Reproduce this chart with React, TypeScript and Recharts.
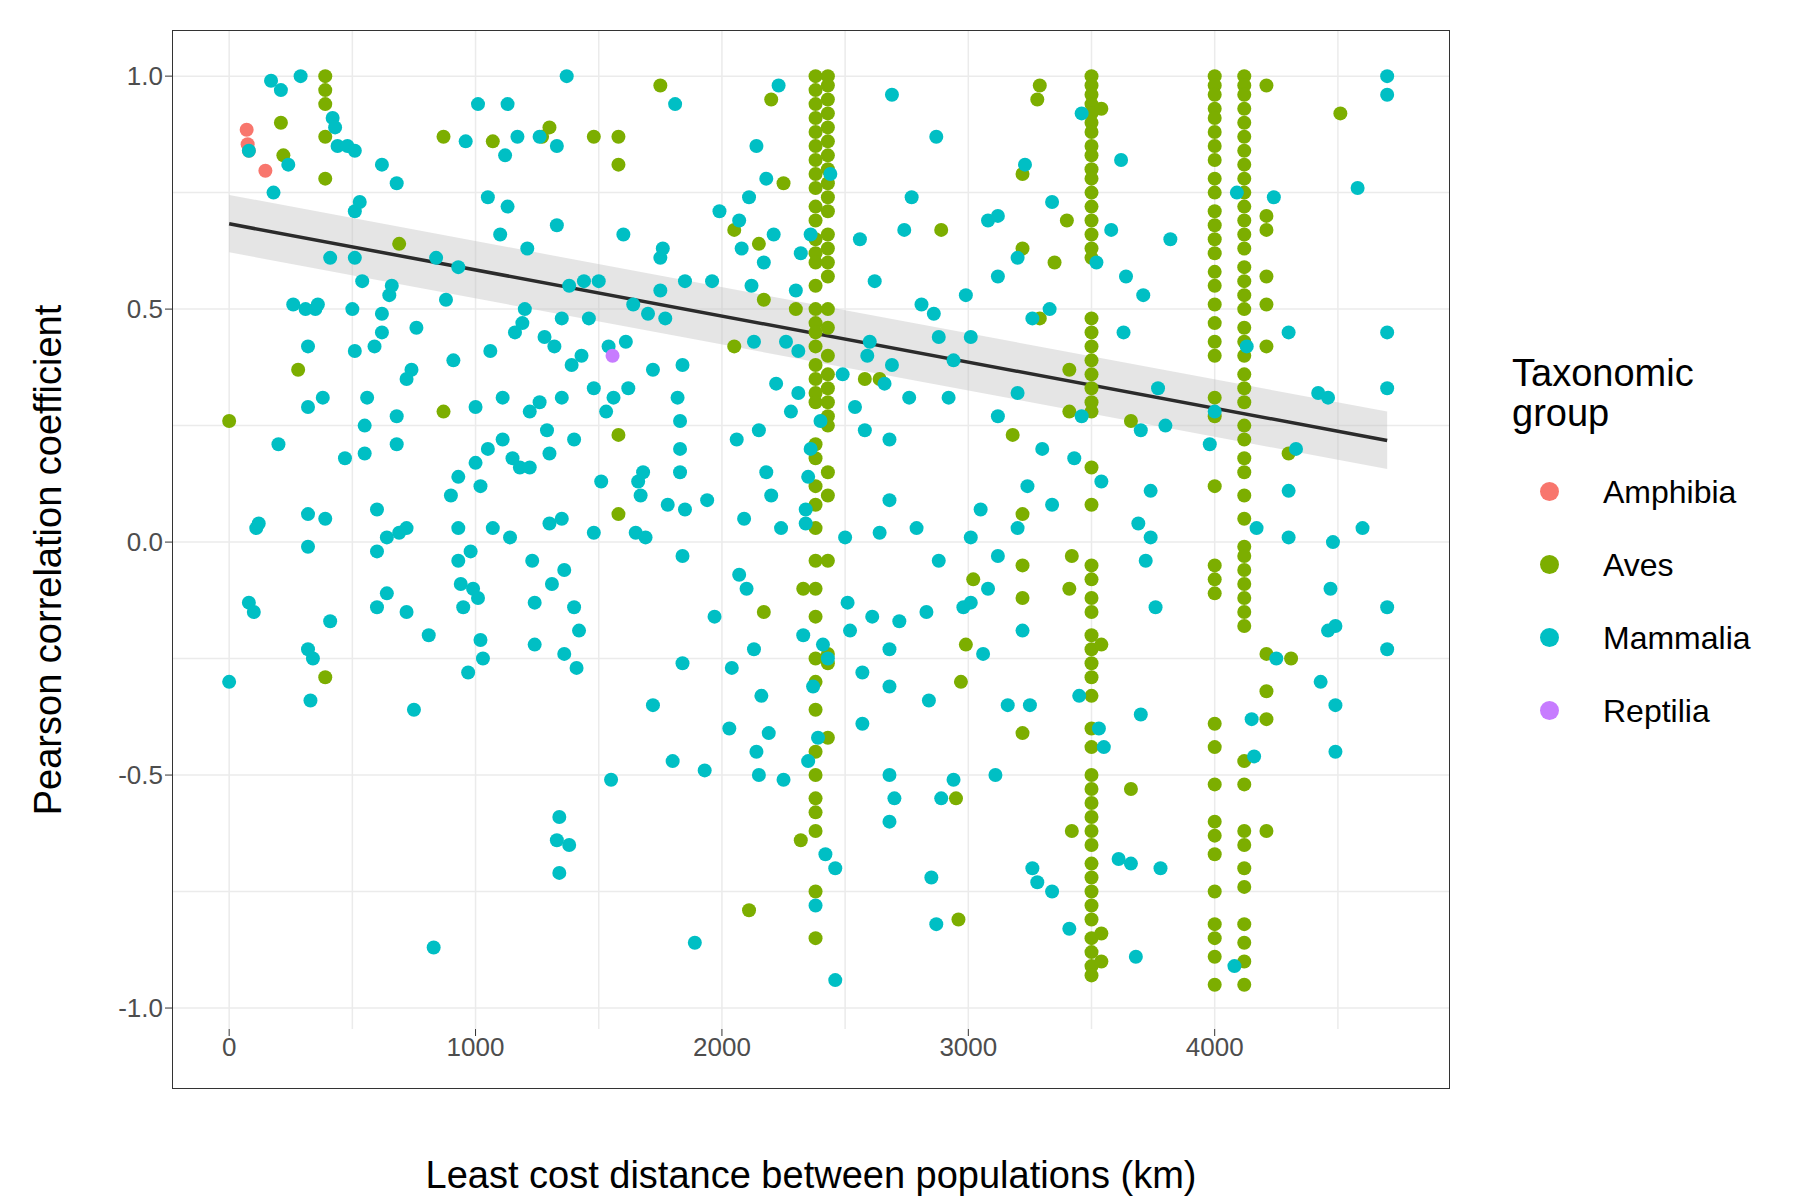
import React from "react";
import { ComposedChart, Scatter, Line, Area, XAxis, YAxis, CartesianGrid } from "recharts";

const COLORS = { Amphibia: "#F8766D", Aves: "#7CAE00", Mammalia: "#00BFC4", Reptilia: "#C77CFF" };
const xTicks = [0, 1000, 2000, 3000, 4000];
const yTicks = [-1, -0.5, 0, 0.5, 1];
const xGrid = [0, 500, 1000, 1500, 2000, 2500, 3000, 3500, 4000, 4500];
const yGrid = [-1, -0.75, -0.5, -0.25, 0, 0.25, 0.5, 0.75, 1];

const amphibia: number[][] = [[71, 0.885], [75, 0.854], [147, 0.797], [80, 0.84]];
const reptilia: number[][] = [[1556, 0.4]];

const avesColX = [2380, 2430, 3500, 4000, 4120];
const avesColY: number[][] = [
  [1.0, 0.97, 0.94, 0.91, 0.88, 0.85, 0.82, 0.79, 0.76, 0.72, 0.69, 0.65, 0.62, 0.6, 0.55, 0.5, 0.47, 0.45, 0.42, 0.38, 0.35, 0.32, 0.3, 0.21, 0.18, 0.12, 0.08, 0.03, -0.04, -0.1, -0.16, -0.25, -0.3, -0.36, -0.45, -0.5, -0.55, -0.58, -0.62, -0.75, -0.85],
  [1.0, 0.98, 0.95, 0.92, 0.89, 0.86, 0.83, 0.8, 0.77, 0.74, 0.71, 0.66, 0.63, 0.6, 0.57, 0.5, 0.46, 0.4, 0.36, 0.33, 0.3, 0.27, 0.25, 0.15, 0.1, -0.04, -0.24, -0.26, -0.42],
  [1.0, 0.98, 0.96, 0.94, 0.92, 0.9, 0.88, 0.85, 0.83, 0.8, 0.78, 0.75, 0.72, 0.69, 0.66, 0.63, 0.61, 0.48, 0.45, 0.42, 0.39, 0.36, 0.33, 0.3, 0.28, 0.16, 0.08, -0.05, -0.08, -0.12, -0.15, -0.2, -0.23, -0.26, -0.29, -0.33, -0.4, -0.44, -0.5, -0.53, -0.56, -0.59, -0.62, -0.65, -0.69, -0.72, -0.75, -0.78, -0.81, -0.85, -0.88, -0.91, -0.93],
  [1.0, 0.98, 0.96, 0.93, 0.91, 0.88, 0.85, 0.82, 0.78, 0.75, 0.71, 0.68, 0.65, 0.62, 0.58, 0.55, 0.51, 0.47, 0.43, 0.4, 0.31, 0.27, 0.12, -0.05, -0.08, -0.11, -0.39, -0.44, -0.52, -0.6, -0.63, -0.67, -0.75, -0.82, -0.85, -0.89, -0.95],
  [1.0, 0.98, 0.96, 0.93, 0.9, 0.87, 0.84, 0.81, 0.78, 0.75, 0.72, 0.69, 0.66, 0.63, 0.59, 0.56, 0.53, 0.5, 0.46, 0.43, 0.4, 0.36, 0.33, 0.3, 0.25, 0.22, 0.18, 0.15, 0.1, 0.05, -0.01, -0.03, -0.06, -0.09, -0.12, -0.15, -0.18, -0.47, -0.52, -0.62, -0.65, -0.7, -0.74, -0.82, -0.86, -0.9, -0.95],
];
const avesScatter: number[][] = [
  [0, 0.26], [210, 0.9], [220, 0.83], [280, 0.37], [390, 1.0], [390, 0.97], [390, 0.94], [390, 0.87], [390, 0.78], [390, -0.29], [690, 0.64], [870, 0.87], [870, 0.28], [1070, 0.86], [1270, 0.87], [1300, 0.89], [1480, 0.87], [1580, 0.87], [1580, 0.81], [1580, 0.23], [1580, 0.06], [1750, 0.98], [2050, 0.67], [2050, 0.42], [2110, -0.79], [2150, 0.64], [2170, 0.52], [2170, -0.15], [2200, 0.95], [2250, 0.77], [2300, 0.5], [2320, -0.64], [2330, -0.1], [2580, 0.35], [2640, 0.35], [2890, 0.67], [2950, -0.55], [2960, -0.81], [2970, -0.3], [2990, -0.22], [3020, -0.08], [3180, 0.23], [3220, 0.79], [3220, 0.63], [3220, 0.06], [3220, -0.05], [3220, -0.12], [3220, -0.41], [3280, 0.95], [3290, 0.98], [3290, 0.48], [3350, 0.6], [3400, 0.69], [3410, 0.37], [3410, 0.28], [3410, -0.1], [3420, -0.62], [3420, -0.03], [3540, 0.93], [3540, -0.22], [3540, -0.84], [3540, -0.9], [3660, 0.26], [3660, -0.53], [4210, 0.98], [4210, 0.7], [4210, 0.67], [4210, 0.57], [4210, 0.51], [4210, 0.42], [4210, -0.24], [4210, -0.32], [4210, -0.38], [4210, -0.62], [4300, 0.19], [4310, -0.25], [4510, 0.92],
];

const mammalia: number[][] = [
  [0, -0.3], [80, 0.84], [80, -0.13], [100, -0.15], [110, 0.03], [120, 0.04], [170, 0.99], [180, 0.75], [200, 0.21], [210, 0.97], [240, 0.81], [260, 0.51], [290, 1.0], [310, 0.5], [320, 0.42], [320, 0.29], [320, 0.06], [320, -0.01], [320, -0.23], [330, -0.34], [340, -0.25], [350, 0.5], [360, 0.51], [380, 0.31], [390, 0.05], [410, -0.17], [410, 0.61], [420, 0.91], [430, 0.89], [440, 0.85], [470, 0.18], [480, 0.85], [500, 0.5], [510, 0.84], [510, 0.71], [510, 0.61], [510, 0.41], [530, 0.73], [540, 0.56], [550, 0.25], [550, 0.19], [560, 0.31], [590, 0.42], [600, -0.02], [600, -0.14], [600, 0.07], [620, 0.81], [620, 0.49], [620, 0.45], [640, 0.01], [640, -0.11], [650, 0.53], [660, 0.55], [680, 0.77], [680, 0.27], [680, 0.21], [690, 0.02], [720, 0.03], [720, -0.15], [720, 0.35], [740, 0.37], [750, -0.36], [760, 0.46], [810, -0.2], [830, -0.87], [840, 0.61], [880, 0.52], [900, 0.1], [910, 0.39], [930, 0.59], [930, 0.14], [930, 0.03], [930, -0.04], [940, -0.09], [950, -0.14], [960, 0.86], [970, -0.28], [980, -0.02], [990, -0.1], [1000, 0.29], [1000, 0.17], [1010, 0.94], [1010, -0.12], [1020, 0.12], [1020, -0.21], [1030, -0.25], [1050, 0.2], [1050, 0.74], [1060, 0.41], [1070, 0.03], [1100, 0.66], [1110, 0.31], [1110, 0.22], [1120, 0.83], [1130, 0.94], [1130, 0.72], [1140, 0.01], [1150, 0.18], [1160, 0.45], [1170, 0.87], [1180, 0.16], [1190, 0.47], [1200, 0.5], [1210, 0.63], [1220, 0.28], [1220, 0.16], [1230, -0.04], [1240, -0.22], [1240, -0.13], [1260, 0.3], [1260, 0.87], [1280, 0.44], [1290, 0.24], [1300, 0.19], [1300, 0.04], [1310, -0.09], [1320, 0.42], [1330, 0.85], [1330, 0.68], [1330, -0.64], [1340, -0.71], [1340, -0.59], [1350, 0.48], [1350, 0.31], [1350, 0.05], [1360, -0.06], [1360, -0.24], [1370, 1.0], [1380, 0.55], [1380, -0.65], [1390, 0.38], [1400, 0.22], [1400, -0.14], [1410, -0.27], [1420, -0.19], [1430, 0.4], [1440, 0.56], [1460, 0.48], [1480, 0.33], [1480, 0.02], [1500, 0.56], [1510, 0.13], [1530, 0.28], [1540, 0.42], [1550, -0.51], [1560, 0.31], [1600, 0.66], [1610, 0.43], [1620, 0.33], [1640, 0.51], [1650, 0.02], [1660, 0.13], [1670, 0.1], [1680, 0.15], [1690, 0.01], [1700, 0.49], [1720, -0.35], [1720, 0.37], [1750, 0.61], [1750, 0.54], [1760, 0.63], [1770, 0.48], [1780, 0.08], [1800, -0.47], [1810, 0.94], [1820, 0.31], [1830, 0.26], [1830, 0.2], [1830, 0.15], [1840, 0.38], [1840, -0.03], [1840, -0.26], [1850, 0.56], [1850, 0.07], [1890, -0.86], [1930, -0.49], [1940, 0.09], [1960, 0.56], [1970, -0.16], [1990, 0.71], [2030, -0.4], [2040, -0.27], [2060, 0.22], [2070, 0.69], [2070, -0.07], [2080, 0.63], [2090, 0.05], [2100, -0.1], [2110, 0.74], [2120, 0.55], [2130, 0.43], [2130, -0.23], [2140, 0.85], [2140, -0.45], [2150, 0.24], [2150, -0.5], [2160, -0.33], [2170, 0.6], [2180, 0.78], [2180, 0.15], [2190, -0.41], [2200, 0.1], [2210, 0.66], [2220, 0.34], [2230, 0.98], [2240, 0.03], [2250, -0.51], [2260, 0.43], [2280, 0.28], [2300, 0.54], [2310, 0.41], [2310, 0.32], [2320, 0.62], [2330, -0.2], [2340, 0.07], [2340, 0.04], [2350, 0.14], [2350, -0.47], [2360, 0.66], [2360, 0.2], [2370, -0.31], [2380, -0.78], [2390, -0.42], [2400, 0.26], [2410, -0.22], [2420, -0.67], [2430, -0.25], [2440, 0.79], [2460, -0.94], [2460, -0.7], [2490, 0.36], [2500, 0.01], [2510, -0.13], [2520, -0.19], [2540, 0.29], [2560, 0.65], [2570, -0.28], [2570, -0.39], [2580, 0.24], [2590, 0.4], [2600, 0.43], [2610, -0.16], [2620, 0.56], [2640, 0.02], [2660, 0.34], [2680, 0.22], [2680, 0.09], [2680, -0.23], [2680, -0.31], [2680, -0.5], [2680, -0.6], [2690, 0.96], [2690, 0.38], [2700, -0.55], [2720, -0.17], [2740, 0.67], [2760, 0.31], [2770, 0.74], [2790, 0.03], [2810, 0.51], [2830, -0.15], [2840, -0.34], [2850, -0.72], [2860, 0.49], [2870, 0.87], [2870, -0.82], [2880, 0.44], [2880, -0.04], [2890, -0.55], [2920, 0.31], [2940, 0.39], [2940, -0.51], [2980, -0.14], [2990, 0.53], [3010, 0.44], [3010, 0.01], [3010, -0.13], [3050, 0.07], [3060, -0.24], [3080, 0.69], [3080, -0.1], [3110, -0.5], [3120, 0.7], [3120, 0.57], [3120, 0.27], [3120, -0.03], [3160, -0.35], [3200, 0.61], [3200, 0.32], [3200, 0.03], [3220, -0.19], [3230, 0.81], [3240, 0.12], [3250, -0.35], [3260, 0.48], [3260, -0.7], [3280, -0.73], [3300, 0.2], [3330, 0.5], [3340, 0.73], [3340, 0.08], [3340, -0.75], [3410, -0.83], [3430, 0.18], [3450, -0.33], [3460, 0.27], [3460, 0.92], [3520, 0.6], [3530, -0.4], [3540, 0.13], [3550, -0.44], [3580, 0.67], [3610, -0.68], [3620, 0.82], [3630, 0.45], [3640, 0.57], [3660, -0.69], [3680, -0.89], [3690, 0.04], [3700, 0.24], [3700, -0.37], [3710, 0.53], [3720, -0.04], [3740, 0.11], [3740, 0.01], [3760, -0.14], [3770, 0.33], [3780, -0.7], [3800, 0.25], [3820, 0.65], [3980, 0.21], [4000, 0.28], [4080, -0.91], [4090, 0.75], [4130, 0.42], [4150, -0.38], [4160, -0.46], [4170, 0.03], [4240, 0.74], [4250, -0.25], [4300, 0.45], [4300, 0.11], [4300, 0.01], [4330, 0.2], [4420, 0.32], [4430, -0.3], [4460, 0.31], [4460, -0.19], [4470, -0.1], [4480, 0.0], [4490, -0.35], [4490, -0.45], [4490, -0.18], [4580, 0.76], [4600, 0.03], [4700, 1.0], [4700, 0.96], [4700, 0.45], [4700, 0.33], [4700, -0.14], [4700, -0.23],
];

const fitX = [0, 4700];
const fitY = [0.683, 0.218];
const fitLo = [0.622, 0.157];
const fitHi = [0.745, 0.28];

const toPts = (arr: number[][]) => arr.map(([x, y]) => ({ x, y }));
const aves = [
  ...avesColX.flatMap((x, i) => avesColY[i].map((y) => [x, y])),
  ...avesScatter,
];
const fitData = fitX.map((x, i) => ({ x, fit: fitY[i], band: [fitLo[i], fitHi[i]] }));

const dot = (color: string) => (p: any) => <circle cx={p.cx} cy={p.cy} r={7} fill={color} />;

const W = 1790, H = 1190;
const PL = 164, PR = 1442, PT = 22, PB = 1081;
const font = "Liberation Sans, Arial, sans-serif";

export default function App() {
  return (
    <div style={{ position: "relative", width: W, height: H, fontFamily: font, background: "#fff" }}>
      <ComposedChart width={W} height={H} margin={{ top: PT, right: W - PR, bottom: H - PB, left: PL - 80 }}>
        <CartesianGrid stroke="#ebebeb" strokeWidth={1.5} horizontalValues={yGrid} verticalValues={xGrid} />
        <XAxis dataKey="x" type="number" domain={[-232, 4955]} ticks={xTicks} allowDataOverflow
          axisLine={false} tickLine={{ stroke: "#333" }} tickSize={7} height={60}
          tick={{ fill: "#4d4d4d", fontSize: 26, fontFamily: font }} />
        <YAxis type="number" domain={[-1.045, 1.099]} ticks={yTicks} allowDataOverflow width={80}
          axisLine={false} tickLine={{ stroke: "#333" }} tickSize={7}
          tickFormatter={(v: number) => v.toFixed(1)}
          tick={{ fill: "#4d4d4d", fontSize: 26, fontFamily: font }} />
        <Scatter data={toPts(amphibia)} dataKey="y" shape={dot(COLORS.Amphibia)} isAnimationActive={false} />
        <Scatter data={toPts(aves)} dataKey="y" shape={dot(COLORS.Aves)} isAnimationActive={false} />
        <Scatter data={toPts(mammalia)} dataKey="y" shape={dot(COLORS.Mammalia)} isAnimationActive={false} />
        <Scatter data={toPts(reptilia)} dataKey="y" shape={dot(COLORS.Reptilia)} isAnimationActive={false} />
        <Area data={fitData} dataKey="band" type="linear" stroke="none" fill="#bdbdbd" fillOpacity={0.4} isAnimationActive={false} />
        <Line data={fitData} dataKey="fit" type="linear" stroke="#2b2b2b" strokeWidth={3.5} dot={false} isAnimationActive={false} />
      </ComposedChart>
      <div style={{ position: "absolute", left: PL, top: PT, width: PR - PL, height: PB - PT, border: "1.5px solid #333", boxSizing: "border-box", pointerEvents: "none" }} />
      <div style={{ position: "absolute", left: PL, width: PR - PL, top: 1148, textAlign: "center", fontSize: 38, color: "#000", lineHeight: 1 }}>
        Least cost distance between populations (km)
      </div>
      <div style={{ position: "absolute", left: 40, top: (PT + PB) / 2, transform: "translate(-50%, -50%) rotate(-90deg)", whiteSpace: "nowrap", fontSize: 38, color: "#000", lineHeight: 1 }}>
        Pearson correlation coefficient
      </div>
      <div style={{ position: "absolute", left: 1504, top: 345, fontSize: 38, lineHeight: "40px", color: "#000" }}>
        <div>Taxonomic</div>
        <div>group</div>
        <div style={{ marginTop: 22 }}>
          {(Object.keys(COLORS) as (keyof typeof COLORS)[]).map((k) => (
            <div key={k} style={{ display: "flex", alignItems: "center", height: 73 }}>
              <span style={{ width: 19, height: 19, borderRadius: 10, background: COLORS[k], marginLeft: 28, marginRight: 44 }} />
              <span style={{ fontSize: 32 }}>{k}</span>
            </div>
          ))}
        </div>
      </div>
    </div>
  );
}
